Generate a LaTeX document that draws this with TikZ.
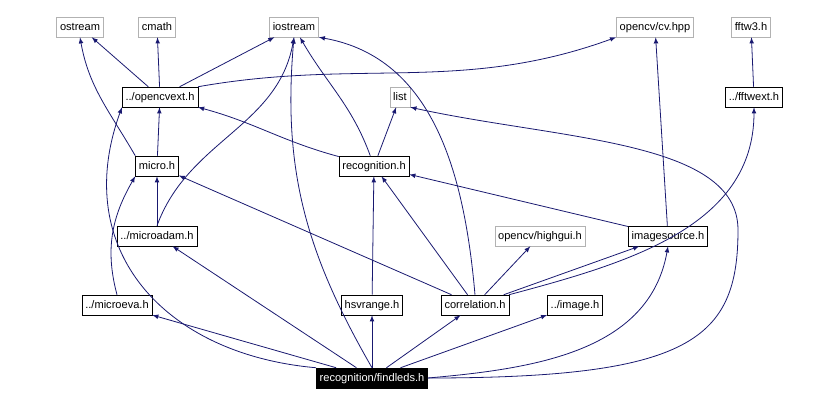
\documentclass[tikz,border=0pt]{standalone}
\usepackage{fontspec}
\setmainfont{Liberation Sans}
\usetikzlibrary{arrows}

\begin{document}
\begin{tikzpicture}[
            x = 0.75pt, y = -0.75pt,
            > = latex, % arrow head style
            font = \fontsize{8.3}{10}\selectfont,
            every edge/.style = {draw, ->, navy, semithick},
        ]
 \definecolor{navy}{RGB}{25,25,112}
 \tikzstyle{file}=[draw = black, fill = white, inner sep = 2.5pt,
            minimum height = 15pt, text height = 6.5pt, text depth = 1.8pt]
 \tikzstyle{sys}=[file, draw = gray!60]
\useasboundingbox (0,0) rectangle (825,401);
% system headers
\node[sys] (ostream) at (80,27) {ostream};
\node[sys] (cmath) at (157,27) {cmath};
\node[sys] (iostream) at (294,27) {iostream};
\node[sys] (cvhpp) at (655,27) {opencv/cv.hpp};
\node[sys] (fftw) at (751,27) {fftw3.h};
\node[sys] (list) at (400,97) {list};
\node[sys] (highgui) at (540,236) {opencv/highgui.h};
% project headers
\node[file] (cvext) at (160,97) {../opencvext.h};
\node[file] (fftwext) at (754,97) {../fftwext.h};
\node[file] (micro) at (157,166) {micro.h};
\node[file] (recog) at (374,166) {recognition.h};
\node[file] (madam) at (157,236) {../microadam.h};
\node[file] (imgsrc) at (668,236) {imagesource.h};
\node[file] (meva) at (117,305) {../microeva.h};
\node[file] (hsv) at (372,305) {hsvrange.h};
\node[file] (corr) at (475,305) {correlation.h};
\node[file] (image) at (575,305) {../image.h};
\node[file, fill = black, text = white] (leds) at (372,378) {recognition/findleds.h};

\path (cvext) edge (ostream) edge (cmath) edge (iostream)
      (cvext.north east) edge[out=10, in=200] (cvhpp.south west);
\path (micro) edge (cvext)
      (micro.north west) edge[out=120, in=280] (ostream.south);
\path (recog) edge[out=165, in=-15] (cvext.south east)
      (recog) edge[out=110, in=-60] (iostream) edge (list);
\path (madam) edge (micro) (madam.north) edge[out=70, in=-100] (iostream.south);
\path (meva.north) edge[out=105, in=-120] (micro.south west);
\path (imgsrc) edge (cvhpp) (imgsrc) edge (recog);
\path (fftwext) edge (fftw);
\path (hsv) edge (recog);
\path (corr) edge (micro) edge (recog) edge (highgui) edge (imgsrc)
      (corr.north) edge[out=95, in=-10] (iostream.south east)
      (corr.north east) edge[out=15, in=-90] (fftwext.south);
\path (leds) edge (meva) edge (madam) edge (hsv) edge (corr) edge (image)
      (leds.east) edge[out=5, in=-100] (imgsrc.south)
      (leds.north) edge[out=120, in=-95] (iostream.south)
      (leds.north west) edge[out=175, in=-110, looseness=1.2] (cvext.south west);
\draw[->, navy, semithick] (leds.east) .. controls (690,378) and (738,340) .. (738,230)
      .. controls (738,140) and (560,140) .. (list.south east);
\end{tikzpicture}
\end{document}
